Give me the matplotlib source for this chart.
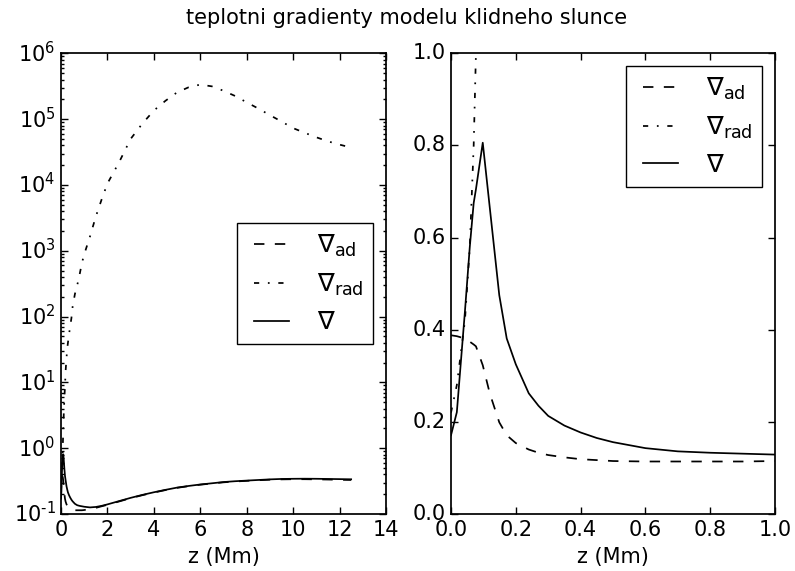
import matplotlib
matplotlib.use("Agg")
import matplotlib.pyplot as plt
from matplotlib.ticker import FuncFormatter
import numpy as np

# height grid (Mm) and temperature gradients of the quiet-sun model
z = [0.0, 0.018, 0.043, 0.058, 0.07, 0.077, 0.098, 0.12, 0.149, 0.172,
     0.2, 0.24, 0.27, 0.3, 0.35, 0.4, 0.45, 0.5, 0.6, 0.7,
     0.8, 0.9, 1.0, 1.25, 1.5, 1.75, 2.0, 2.5, 3.0, 3.5,
     4.0, 4.5, 5.0, 5.5, 6.0, 6.5, 7.0, 7.5, 8.0, 8.5,
     9.0, 9.5, 10.0, 10.5, 11.0, 11.5, 12.0, 12.5]

grad_ad = [0.388, 0.386, 0.381, 0.374, 0.368, 0.364, 0.323, 0.261, 0.199, 0.171,
           0.154, 0.140, 0.133, 0.128, 0.123, 0.119, 0.117, 0.115, 0.114, 0.114,
           0.114, 0.114, 0.115, 0.119, 0.124, 0.131, 0.138, 0.155, 0.174, 0.193,
           0.212, 0.231, 0.250, 0.265, 0.279, 0.291, 0.303, 0.312, 0.319, 0.326,
           0.332, 0.336, 0.338, 0.338, 0.336, 0.334, 0.331, 0.329]

grad_rad = [0.22, 0.28, 0.42, 0.58, 0.80, 1.0, 1.9, 3.3, 6.0, 8.5,
            15, 24, 33, 40, 55, 72, 95, 140, 220, 300,
            430, 650, 880, 1650, 3300, 6000, 10500, 22000, 50000, 85000,
            135000, 190000, 255000, 305000, 335000, 315000, 270000, 225000, 180000, 145000,
            115000, 92000, 73000, 62000, 53000, 46000, 41000, 37000]

grad = [0.171, 0.221, 0.44, 0.58, 0.675, 0.705, 0.806, 0.663, 0.475, 0.381,
        0.325, 0.262, 0.235, 0.213, 0.192, 0.177, 0.165, 0.156, 0.143, 0.136,
        0.133, 0.131, 0.129, 0.126, 0.128, 0.133, 0.140, 0.157, 0.176, 0.195,
        0.214, 0.233, 0.252, 0.267, 0.281, 0.293, 0.306, 0.315, 0.322, 0.329,
        0.336, 0.341, 0.343, 0.344, 0.343, 0.341, 0.339, 0.337]

labels = [r"$\nabla_{\mathrm{ad}}$", r"$\nabla_{\mathrm{rad}}$", r"$\nabla$"]

plt.style.use("classic")
plt.rcParams.update({
    "font.family": "DejaVu Sans",
    "mathtext.fontset": "dejavusans",
    "font.size": 15,
    "axes.unicode_minus": False,
    "axes.linewidth": 1.25,
    "xtick.major.size": 5,
    "ytick.major.size": 5,
    "xtick.minor.size": 2.5,
    "ytick.minor.size": 2.5,
    "xtick.major.width": 1.0,
    "ytick.major.width": 1.0,
    "xtick.minor.width": 1.0,
    "ytick.minor.width": 1.0,
    "lines.scale_dashes": True,
    "figure.facecolor": "white",
    "savefig.facecolor": "white",
})


def decade_label(val, pos):
    # plain hyphen for negative exponents
    exp = int(round(np.log10(val)))
    return r"$\mathdefault{10^{\text{%d}}}$" % exp


fig = plt.figure(figsize=(7.95, 5.71), dpi=100)
ax1 = fig.add_axes([0.0767, 0.0998, 0.4088, 0.8068])
ax2 = fig.add_axes([0.5673, 0.0998, 0.4075, 0.8068])


def draw(ax):
    ax.plot(z, grad_ad, color="k", lw=1.25, dashes=(6, 6), label=labels[0])
    ax.plot(z, grad_rad, color="k", lw=1.25, dashes=(3, 5, 1, 5), label=labels[1])
    ax.plot(z, grad, color="k", lw=1.25, ls="-", label=labels[2])
    ax.set_xlabel("z (Mm)")


draw(ax1)
ax1.set_yscale("log")
ax1.set_xlim(0, 14)
ax1.set_ylim(1e-1, 1e6)
ax1.yaxis.set_major_formatter(FuncFormatter(decade_label))
ax1.legend(loc="center right", frameon=True, fancybox=False)

draw(ax2)
ax2.set_xlim(0, 1)
ax2.set_ylim(0, 1)
ax2.set_xticks(np.arange(0, 1.01, 0.2))
ax2.set_yticks(np.arange(0, 1.01, 0.2))
ax2.legend(loc="upper right", frameon=True, fancybox=False)

fig.text(0.511, 0.969, "teplotni gradienty modelu klidneho slunce",
         ha="center", va="center", fontsize=15)

fig.savefig("out.png", dpi=100)
